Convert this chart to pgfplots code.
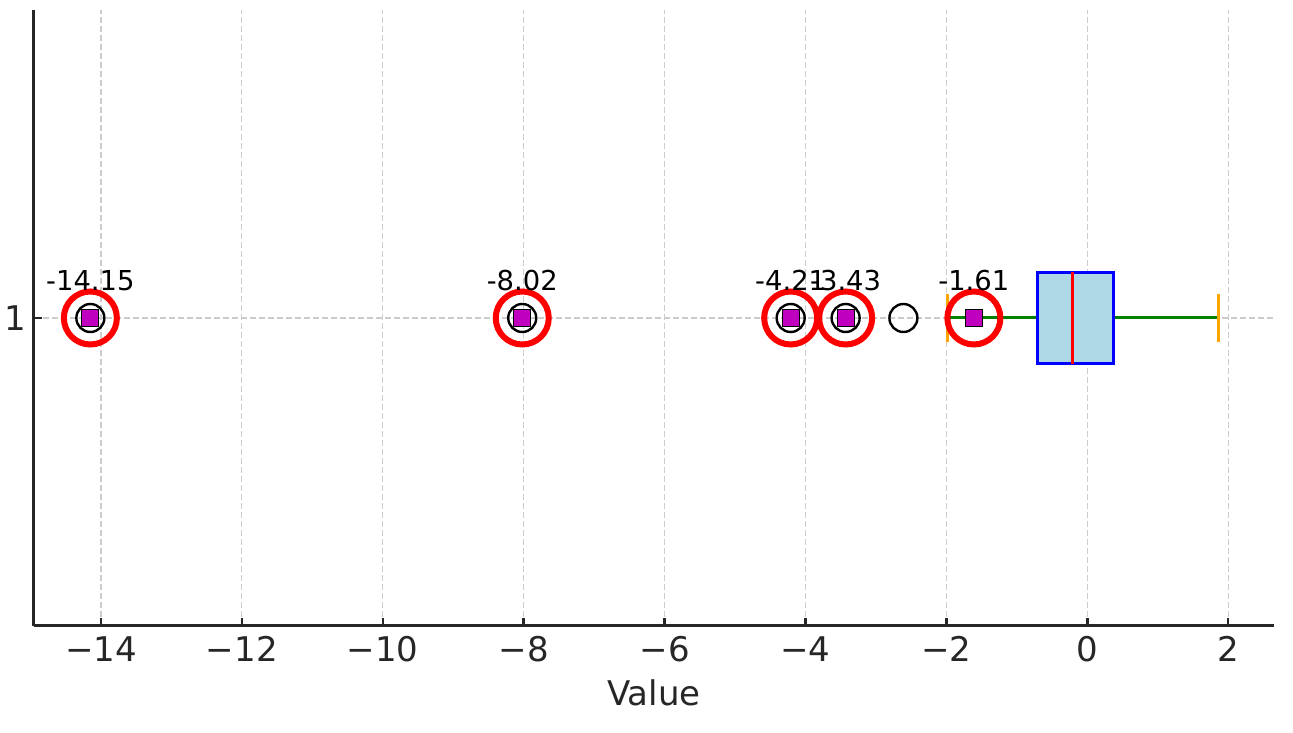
\documentclass[border=0pt]{standalone}
\usepackage{pgfplots}
\pgfplotsset{compat=1.18}
\usepgfplotslibrary{statistics}
\usepackage{fontspec}
\setmainfont{DejaVu Sans}
\definecolor{spine}{HTML}{262626}
\definecolor{lightblue}{HTML}{ADD8E6}
\definecolor{mplgreen}{HTML}{008000}
\definecolor{mplorange}{HTML}{FFA500}
\definecolor{mplmag}{HTML}{BF00BF}
\definecolor{gridc}{HTML}{CCCCCC}

\pgfplotstableread{
x y label
-14.15 1 -14.15
-8.02 1 -8.02
-4.21 1 -4.21
-3.43 1 -3.43
-1.61 1 -1.61
}\annot

\pgfplotstableread{
x y
-14.15 1
-8.02 1
-4.21 1
-3.43 1
-2.61 1
}\fliers

\begin{document}
\begin{tikzpicture}
\begin{axis}[
  scale only axis, width=620pt, height=308pt,
  xmin=-14.95, xmax=2.65, ymin=0.5, ymax=1.5,
  axis x line*=bottom, axis y line*=left,
  axis line style={spine, line width=1.5pt},
  xtick={-14,-12,-10,-8,-6,-4,-2,0,2},
  xticklabels={−14,−12,−10,−8,−6,−4,−2,0,2},
  ytick={1}, yticklabels={1},
  tick align=inside, major tick length=4pt,
  tick style={spine, line width=1.2pt},
  xticklabel style={anchor=base, yshift=-18pt, font=\fontsize{17}{20}\selectfont, text=spine},
  yticklabel style={anchor=east, inner sep=0pt, xshift=-3.5pt, font=\fontsize{17}{20}\selectfont, text=spine},
  xlabel={Value},
  xlabel style={at={(axis description cs:0.5,0)}, anchor=base, yshift=-40pt, font=\fontsize{17}{20}\selectfont, text=spine},
  grid=major,
  major grid style={gridc, line width=0.6pt, dash pattern=on 3pt off 1.5pt},
  clip=false,
]
% fliers
\addplot[only marks, mark=o, mark size=7pt, mark options={draw=black, fill=none, line width=1.2pt}]
  table[x=x, y=y] {\fliers};
% red circles
\addplot[only marks, mark=o, mark size=13.25pt, mark options={draw=red, fill=none, line width=3pt}]
  table[x=x, y=y] {\annot};
\addplot[
  boxplot prepared={draw position=1, lower whisker=-1.99, lower quartile=-0.70,
    median=-0.215, upper quartile=0.37, upper whisker=1.86,
    box extend=0.149, whisker extend=0.078},
  boxplot/draw direction=x,
  boxplot/every box/.style={draw=blue, fill=lightblue, line width=1.5pt},
  boxplot/every median/.style={red, line width=1.5pt},
  boxplot/draw/lower whisker/.code={%
    \draw[mplgreen, line width=1.5pt]
      (boxplot box cs:\pgfplotsboxplotvalue{lower whisker},0.5) --
      (boxplot box cs:\pgfplotsboxplotvalue{lower quartile},0.5);
    \draw[mplorange, line width=1.5pt]
      (boxplot whisker cs:\pgfplotsboxplotvalue{lower whisker},0) --
      (boxplot whisker cs:\pgfplotsboxplotvalue{lower whisker},1);
  },
  boxplot/draw/upper whisker/.code={%
    \draw[mplgreen, line width=1.5pt]
      (boxplot box cs:\pgfplotsboxplotvalue{upper quartile},0.5) --
      (boxplot box cs:\pgfplotsboxplotvalue{upper whisker},0.5);
    \draw[mplorange, line width=1.5pt]
      (boxplot whisker cs:\pgfplotsboxplotvalue{upper whisker},0) --
      (boxplot whisker cs:\pgfplotsboxplotvalue{upper whisker},1);
  },
] coordinates {};
% magenta squares with labels
\addplot[only marks, mark=square*, mark size=4.25pt, mark options={draw=none, fill=mplmag},
  nodes near coords, point meta=explicit symbolic,
  every node near coord/.style={anchor=base, yshift=13.5pt, inner sep=0pt, font=\fontsize{13.7}{16}\selectfont, text=black}]
  table[x=x, y=y, meta=label] {\annot};
\end{axis}
\pgfresetboundingbox
\useasboundingbox ([shift={(-17pt,-53.5pt)}]current axis.south west) rectangle ([shift={(9.5pt,5pt)}]current axis.north east);
\end{tikzpicture}
\end{document}
